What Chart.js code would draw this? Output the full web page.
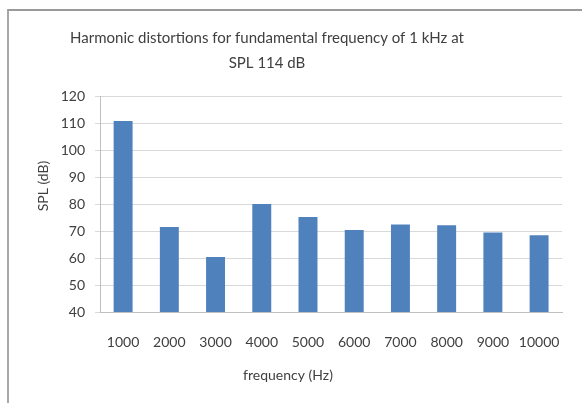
<!DOCTYPE html>
<html>
<head>
<meta charset="utf-8">
<script src="https://cdn.jsdelivr.net/npm/chart.js@4"></script>
<style>
    html, body { margin: 0; padding: 0; background: #fff; }
    #wrap { position: relative; width: 582px; height: 403px; overflow: hidden; }
    #frame {
        position: absolute; left: 7px; top: 9px; width: 600px; height: 420px;
        border-left: 2px solid #a8a8a8; border-top: 2px solid #9a9a9a;
        pointer-events: none;
    }
</style>
</head>
<body>
<div id="wrap">
    <canvas id="chart"></canvas>
    <div id="frame"></div>
</div>
<script>
// Data.
const frequencies = ['1000', '2000', '3000', '4000', '5000', '6000', '7000', '8000', '9000', '10000'];
const splValues = [110.7, 71.5, 60.4, 80.0, 75.2, 70.4, 72.4, 72.1, 69.4, 68.4];
const titleLines = ['Harmonic distortions for fundamental frequency of 1 kHz at', 'SPL 114 dB'];
const xTitle = 'frequency (Hz)';
const yTitle = 'SPL (dB)';

const FONT = 'Lato, "Open Sans", sans-serif';
const TEXT_COLOR = '#404040';

/**
 * Draws the chart title and both axis titles where the original (Excel) put them.
 */
const titlesPlugin = {
    id: 'titles',
    afterDraw(chart) {
        const ctx = chart.ctx;
        const area = chart.chartArea;
        ctx.save();
        ctx.fillStyle = TEXT_COLOR;
        ctx.textAlign = 'center';
        ctx.textBaseline = 'middle';

        // Main title, two lines
        ctx.font = '15px ' + FONT;
        ctx.fillText(titleLines[0], 267, 38);
        ctx.fillText(titleLines[1], 267, 63);

        // Axis titles
        ctx.font = '14px ' + FONT;
        ctx.fillText(xTitle, 288, 375);
        ctx.translate(43, (area.top + area.bottom) / 2 - 18);
        ctx.rotate(-Math.PI / 2);
        ctx.fillText(yTitle, 0, 0);
        ctx.restore();
    }
};

document.addEventListener('DOMContentLoaded', function() {
    const canvas = document.getElementById('chart');
    canvas.width = 582;
    canvas.height = 403;

    new Chart(canvas.getContext('2d'), {
        type: 'bar',
        data: {
            labels: frequencies,
            datasets: [{
                label: 'SPL',
                data: splValues,
                backgroundColor: '#4f81bd',
                borderWidth: 0,
                categoryPercentage: 1,
                barPercentage: 0.41
            }]
        },
        options: {
            responsive: false,
            animation: false,
            layout: { padding: { left: 0, right: 12, top: 96, bottom: 0 } },
            plugins: {
                legend: { display: false },
                title: { display: false },
                tooltip: { enabled: false }
            },
            scales: {
                x: {
                    offset: true,
                    grid: { display: false, drawTicks: false },
                    border: { display: true, color: '#bfbfbf', width: 1 },
                    ticks: {
                        color: TEXT_COLOR,
                        font: { family: FONT, size: 14 },
                        padding: 22,
                        maxRotation: 0,
                        autoSkip: false
                    },
                    afterFit(scale) { scale.height = 91; }
                },
                y: {
                    min: 40,
                    max: 120,
                    grid: { color: '#d9d9d9', lineWidth: 1, drawTicks: true, tickLength: 5 },
                    border: { display: true, color: '#bfbfbf', width: 1 },
                    ticks: {
                        stepSize: 10,
                        color: TEXT_COLOR,
                        font: { family: FONT, size: 14 },
                        padding: 10
                    },
                    afterFit(scale) { scale.width = 100; }
                }
            }
        },
        plugins: [titlesPlugin]
    });
});
</script>
</body>
</html>
